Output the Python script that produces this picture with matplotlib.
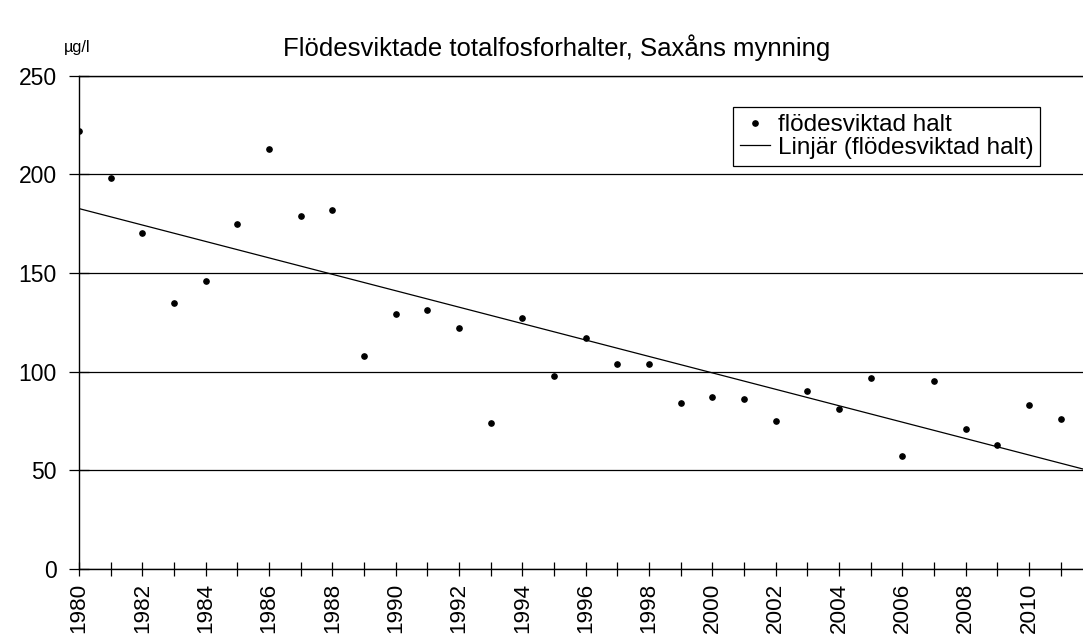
import numpy as np
import matplotlib.pyplot as plt

plt.rcParams['font.family'] = ['Liberation Sans', 'DejaVu Sans']

# data
years = list(range(1980, 2012))
halt = [222, 198, 170, 135, 146, 175, 213, 179, 182, 108, 129, 131, 122, 74,
        127, 98, 117, 104, 104, 84, 87, 86, 75, 90, 81, 97, 57, 95, 71, 63, 83, 76]
tick_labels = [str(y) if y % 2 == 0 else '' for y in years]

fig = plt.figure(figsize=(10.83, 6.37), dpi=100)
ax = fig.add_axes([0.0729, 0.1068, 0.9271, 0.7745])

x_max = 2011.7
ax.set_xlim(1980, x_max)
ax.set_ylim(0, 250)

# linear trend (Excel-style "Linjär")
k, m = np.polyfit(years, halt, 1)
xt = np.array([1980, x_max])
ax.plot(years, halt, 'o', color='black', ms=3.8, lw=0, label='flödesviktad halt', zorder=3)
ax.plot(xt, k * xt + m, color='black', lw=0.9, label='Linjär (flödesviktad halt)', zorder=2)

ax.set_yticks([0, 50, 100, 150, 200, 250])
ax.yaxis.grid(True, color='black', lw=0.9)
ax.set_axisbelow(True)
ax.set_xticks(years)
ax.set_xticklabels(tick_labels, rotation=90, fontsize=16.2)
ax.tick_params(axis='x', direction='inout', length=10, width=0.9, pad=5)
ax.tick_params(axis='y', direction='inout', length=14, width=0.9, labelsize=16.5, pad=9)
for s in ['left', 'bottom', 'top']:
    ax.spines[s].set_linewidth(1.0)
ax.spines['right'].set_visible(False)

leg = ax.legend(loc='upper left', bbox_to_anchor=(0.651, 0.936), fontsize=17.5,
                frameon=True, fancybox=False, edgecolor='black', framealpha=1,
                handlelength=1.25, handletextpad=0.3, borderpad=0.3,
                labelspacing=0.0, borderaxespad=0)
leg.get_frame().set_linewidth(0.9)

fig.text(0.514, 0.925, 'Flödesviktade totalfosforhalter, Saxåns mynning',
         ha='center', va='center', fontsize=18.5)
fig.text(0.071, 0.926, 'µg/l', ha='center', va='center', fontsize=11.8)

fig.savefig('out.png', dpi=100)
